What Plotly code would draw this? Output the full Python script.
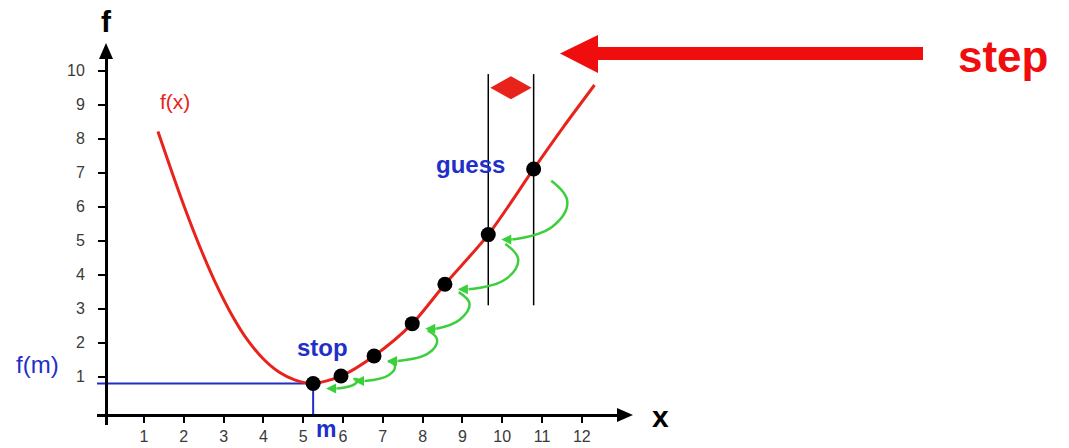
import plotly.graph_objects as go

# ---- data -------------------------------------------------------------
CURVE_X = [1.35, 1.70, 2.05, 2.40, 2.80, 3.20, 3.60, 4.00, 4.40, 4.80, 5.25,
           5.95, 6.78, 7.74, 8.56, 9.65, 10.79, 11.54, 12.32]
CURVE_Y = [8.21, 7.02, 5.88, 4.83, 3.75, 2.83, 2.08, 1.52, 1.13, 0.90, 0.80,
           1.02, 1.61, 2.56, 3.72, 5.18, 7.11, 8.35, 9.58]

# iterates of the search, from the stopping point up to the first guess
ITER_X = [5.25, 5.95, 6.78, 7.74, 8.56, 9.65, 10.79]
ITER_Y = [0.80, 1.02, 1.61, 2.56, 3.72, 5.18, 7.11]

X_TICKS = list(range(1, 13))
Y_TICKS = list(range(1, 11))

BRACKET_Y = [3.1, 9.9]      # extent of the two step marker lines
STEP_MARK_Y = 9.5           # height of the small double arrow

# ---- frame ------------------------------------------------------------
W, H = 1069, 448
X0PX, XSCALE = 104.2, 39.8     # pixel of x=0 and pixels per unit
Y0PX, YSCALE = 410.7, 34.0     # pixel of y=0 and pixels per unit
X_AXIS_PX = 415                # where the x axis line sits
Y_AXIS_PX = 106                # where the y axis line sits
X_LEFT, X_RIGHT = 97, 619
Y_BOTTOM, Y_TOP = 425, 56

RED = "#e8231b"
BLUE = "#1f2fc8"
GREEN = "#3ccf3c"
FONT = "Liberation Sans, Arial, sans-serif"


def data_x(p):
    return (p - X0PX) / XSCALE


def data_y(p):
    return (Y0PX - p) / YSCALE


def pix_x(v):
    return X0PX + XSCALE * v


def pix_y(v):
    return Y0PX - YSCALE * v


def paper_x(p):
    return p / W


def paper_y(p):
    return (H - p) / H


def paper_path(pts):
    return "M " + " L ".join(f"{paper_x(a):.5f},{paper_y(b):.5f}" for a, b in pts) + " Z"


x_range = [data_x(X_LEFT), data_x(X_RIGHT)]
y_range = [data_y(Y_BOTTOM), data_y(Y_TOP)]
x_domain = [paper_x(X_LEFT), paper_x(X_RIGHT)]
y_domain = [paper_y(Y_BOTTOM), paper_y(Y_TOP)]
axis_y = data_y(X_AXIS_PX)

fig = go.Figure()

# guide lines to the minimum
fig.add_trace(go.Scatter(
    x=[x_range[0], ITER_X[0], ITER_X[0]], y=[ITER_Y[0], ITER_Y[0], axis_y],
    mode="lines", line=dict(color=BLUE, width=2), hoverinfo="skip"))

# the function
fig.add_trace(go.Scatter(
    x=CURVE_X, y=CURVE_Y, mode="lines",
    line=dict(color=RED, width=3, shape="spline", smoothing=0.8), hoverinfo="skip"))

# step marker lines through the last two iterates
xa, xb = ITER_X[-2], ITER_X[-1]
fig.add_trace(go.Scatter(
    x=[xa, xa, None, xb, xb], y=[BRACKET_Y[0], BRACKET_Y[1], None, BRACKET_Y[0], BRACKET_Y[1]],
    mode="lines", line=dict(color="black", width=1.5), hoverinfo="skip"))

annotations = []

# curved green arrows from each iterate down to the next one
for i in range(len(ITER_X) - 1, 0, -1):
    hx, hy = pix_x(ITER_X[i]), pix_y(ITER_Y[i])
    lx, ly = pix_x(ITER_X[i - 1]), pix_y(ITER_Y[i - 1])
    w, h = hx - lx, ly - hy
    pts = [
        (hx + 0.3 * w + 4, hy + 0.15 * h + 2),
        (hx + 0.3 * w + 7 + 0.2 * h, hy + 0.5 * h),
        (hx + 0.3 * w + 5, hy + 0.85 * h + 2),
        (lx + 24, ly + 5),
    ]
    fig.add_trace(go.Scatter(
        x=[data_x(p[0]) for p in pts], y=[data_y(p[1]) for p in pts],
        mode="lines", line=dict(color=GREEN, width=2.5, shape="spline", smoothing=1.2),
        hoverinfo="skip"))
    annotations.append(dict(
        x=data_x(lx + 13), y=data_y(ly + 5), ax=data_x(lx + 25), ay=data_y(ly + 5),
        xref="x", yref="y", axref="x", ayref="y", text="", showarrow=True,
        arrowhead=2, arrowsize=0.8, arrowwidth=2.5, arrowcolor=GREEN))

# iterates
fig.add_trace(go.Scatter(
    x=ITER_X, y=ITER_Y, mode="markers",
    marker=dict(color="black", size=15), hoverinfo="skip"))

shapes = []
# small double arrow between the step lines
hh = 11.5 / YSCALE
tip = 2 / XSCALE
xm = (xa + xb) / 2
shapes.append(dict(
    type="path", xref="x", yref="y", fillcolor=RED, line=dict(width=0),
    path=(f"M {xa + tip},{STEP_MARK_Y} L {xm},{STEP_MARK_Y + hh} "
          f"L {xb - tip},{STEP_MARK_Y} L {xm},{STEP_MARK_Y - hh} Z")))

# big step arrow
shapes.append(dict(
    type="path", xref="paper", yref="paper", fillcolor="#f00d0d", line=dict(width=0),
    path=paper_path([(560, 53.5), (598, 35), (598, 47), (923, 47), (923, 60),
                     (598, 60), (598, 73)])))

# axis arrowheads
shapes.append(dict(
    type="path", xref="paper", yref="paper", fillcolor="black", line=dict(width=0),
    path=paper_path([(Y_AXIS_PX, 43), (Y_AXIS_PX + 7, 59), (Y_AXIS_PX - 7, 59)])))
shapes.append(dict(
    type="path", xref="paper", yref="paper", fillcolor="black", line=dict(width=0),
    path=paper_path([(633, X_AXIS_PX), (617, X_AXIS_PX - 7), (617, X_AXIS_PX + 7)])))


def label(text, px, py, color, size, bold=True):
    annotations.append(dict(
        x=paper_x(px), y=paper_y(py), xref="paper", yref="paper", text=f"<b>{text}</b>" if bold else text,
        showarrow=False, xanchor="center", yanchor="middle",
        font=dict(family=FONT, size=size, color=color)))


label("f", 106, 21, "black", 30)
label("x", 660, 416, "black", 30)
label("f(x)", 175, 101, RED, 21, bold=False)
label("guess", 470, 164, BLUE, 24)
label("stop", 322, 347, BLUE, 24)
label("f(m)", 37, 364, BLUE, 24, bold=False)
label("m", 326, 429, BLUE, 23)
label("step", 1003, 56, "#f00d0d", 44)

tick_font = dict(family=FONT, size=16, color="#3a3a3a")
common_x = dict(domain=x_domain, range=x_range, anchor="free", position=paper_y(X_AXIS_PX),
                tickmode="array", tickvals=X_TICKS, showgrid=False, zeroline=False,
                tickcolor="black", tickwidth=2, automargin=False, fixedrange=True)
common_y = dict(domain=y_domain, range=y_range, anchor="free", position=paper_x(Y_AXIS_PX),
                tickmode="array", tickvals=Y_TICKS, showgrid=False, zeroline=False,
                tickcolor="black", tickwidth=2, automargin=False, fixedrange=True)

fig.update_layout(
    width=W, height=H, margin=dict(l=0, r=0, t=0, b=0),
    paper_bgcolor="white", plot_bgcolor="white", showlegend=False,
    xaxis=dict(**common_x, showline=True, linecolor="black", linewidth=3,
               ticks="outside", ticklen=6, tickfont=tick_font, ticklabelstandoff=0),
    xaxis2=dict(**common_x, overlaying="x", showline=False, ticks="inside", ticklen=10,
                showticklabels=False),
    yaxis=dict(**common_y, showline=True, linecolor="black", linewidth=3,
               ticks="outside", ticklen=7, tickfont=tick_font, ticklabelstandoff=10),
    yaxis2=dict(**common_y, overlaying="y", showline=False, ticks="inside", ticklen=10,
                showticklabels=False),
    shapes=shapes, annotations=annotations,
)

fig.write_html("out.html")
